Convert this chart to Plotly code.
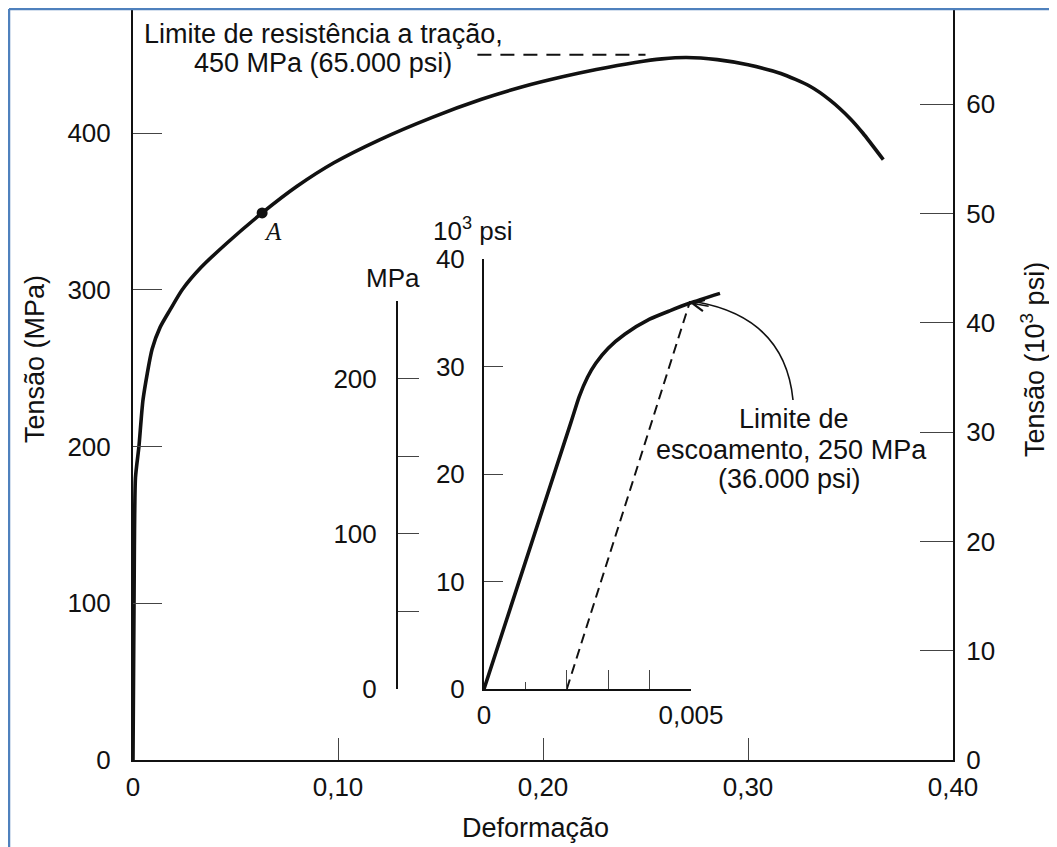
import plotly.graph_objects as go

# ---------------- data ----------------
# main stress-strain curve (strain, MPa)
strain = [0, 0.0005, 0.0012, 0.0029, 0.0049, 0.0093, 0.0132, 0.018, 0.024, 0.033,
          0.046, 0.063, 0.080, 0.098, 0.120, 0.146, 0.170, 0.190, 0.210, 0.226,
          0.245, 0.258, 0.270, 0.285, 0.300, 0.316, 0.330, 0.340, 0.350, 0.356, 0.366]
stress_mpa = [0, 100, 180, 200, 230, 262, 276, 287, 300, 314,
              330, 349, 366, 381, 395.5, 410, 421.5, 429.5, 436, 440.5,
              445, 447.3, 448.2, 446.8, 443.5, 438, 430, 421, 409, 400, 383]

uts_dash_strain = [0.168, 0.250]
uts_dash_mpa = [450, 450]

point_a_strain = [0.063]
point_a_mpa = [349]

# inset (strain, 10^3 psi)
inset_strain = [0, 0.0021, 0.0023, 0.0025, 0.0027, 0.0030, 0.0034, 0.0040,
                0.0045, 0.00498, 0.0057]
inset_ksi = [0, 24.8, 27.2, 29.0, 30.3, 31.7, 33.0, 34.4,
             35.2, 35.9, 36.8]

# 0.2 % offset line (strain, MPa)
offset_strain = [0.002, 0.00498]
offset_mpa = [0, 250]
yield_ksi = 35.9

# ticks
main_x_ticks = [0, 0.1, 0.2, 0.3, 0.4]
main_x_labels = ["0", "0,10", "0,20", "0,30", "0,40"]
mpa_ticks = [0, 100, 200, 300, 400]
ksi_ticks = [0, 10, 20, 30, 40, 50, 60]
inset_ksi_ticks = [0, 10, 20, 30, 40]
inset_mpa_ticks = [0, 50, 100, 150, 200, 250]
inset_mpa_labels = ["0", "", "100", "", "200", ""]
inset_strain_major = [0, 0.001, 0.005]
inset_strain_major_labels = ["0", "", "0,005"]
inset_strain_minor = [0.002, 0.003, 0.004]

# ---------------- layout helpers ----------------
# the page adds an 8 px body margin, so the figure is 8 px smaller than the window
W, H = 1049, 839
L, R, T, B = 125, 104, 0, 87
PW, PH = W - L - R, H - T - B


def pxx(x):
    """reference-image x pixel -> paper x"""
    return (x - 133) / PW


def pxy(y):
    """reference-image y pixel -> paper y"""
    return (760 - y) / PH


FONT = "Liberation Sans, Arial, Helvetica, sans-serif"
FS = 26
FT = 27
INK = "#111111"
TICKC = "#444444"

fig = go.Figure()

fig.add_trace(go.Scatter(x=strain, y=stress_mpa, mode="lines",
                         line=dict(color=INK, width=3.6, shape="spline", smoothing=0.6),
                         xaxis="x", yaxis="y", hoverinfo="skip"))
fig.add_trace(go.Scatter(x=uts_dash_strain, y=uts_dash_mpa, mode="lines",
                         line=dict(color=INK, width=2, dash="14px,9px"),
                         xaxis="x", yaxis="y", hoverinfo="skip"))
fig.add_trace(go.Scatter(x=point_a_strain, y=point_a_mpa, mode="markers",
                         marker=dict(color=INK, size=11),
                         xaxis="x", yaxis="y", hoverinfo="skip"))
fig.add_trace(go.Scatter(x=inset_strain, y=inset_ksi, mode="lines",
                         line=dict(color=INK, width=3.6, shape="spline", smoothing=0.6),
                         xaxis="x2", yaxis="y2", hoverinfo="skip"))
fig.add_trace(go.Scatter(x=offset_strain, y=offset_mpa, mode="lines",
                         line=dict(color=INK, width=2, dash="10px,6px"),
                         xaxis="x2", yaxis="y5", hoverinfo="skip"))
# empty traces so that the helper axes get drawn
fig.add_trace(go.Scatter(x=[None], y=[None], mode="markers", xaxis="x4", yaxis="y2",
                         hoverinfo="skip"))
fig.add_trace(go.Scatter(x=[None], y=[None], mode="markers", xaxis="x", yaxis="y3",
                         hoverinfo="skip"))

axis_common = dict(showgrid=False, zeroline=False, showline=True, linecolor=INK,
                   linewidth=2, ticks="inside", tickcolor=TICKC, tickwidth=1.3,
                   tickfont=dict(family=FONT, size=FS, color=INK), fixedrange=True,
                   tickmode="array")

fig.update_layout(
    width=W, height=H,
    margin=dict(l=L, r=R, t=T, b=B, pad=0, autoexpand=False),
    paper_bgcolor="white", plot_bgcolor="rgba(0,0,0,0)",
    showlegend=False,
    font=dict(family=FONT, size=FS, color=INK),
    xaxis=dict(axis_common, domain=[0, 1], range=[0, 0.4], anchor="y",
               tickvals=main_x_ticks, ticktext=main_x_labels, ticklen=22,
               ticklabelstandoff=3),
    yaxis=dict(axis_common, domain=[0, 1], range=[0, PH / 1.5675], anchor="x",
               tickvals=mpa_ticks, ticklen=29, ticklabelstandoff=15),
    yaxis3=dict(axis_common, overlaying="y", side="right", anchor="x",
                range=[0, PH / 10.93], tickvals=ksi_ticks, ticklen=33,
                ticklabelstandoff=6),
    xaxis2=dict(domain=[pxx(484), pxx(484 + 6 * 41.4)], range=[0, 0.006], anchor="y2",
                visible=False, fixedrange=True),
    yaxis2=dict(axis_common, domain=[pxy(689), pxy(259)], range=[0, 40], anchor="x2",
                tickvals=inset_ksi_ticks, ticklen=19, ticklabelstandoff=12),
    xaxis4=dict(axis_common, domain=[pxx(484), pxx(691)], range=[0, 0.005], anchor="y2",
                tickvals=inset_strain_major, ticktext=inset_strain_major_labels,
                ticklen=7, ticklabelstandoff=2,
                minor=dict(tickmode="array", tickvals=inset_strain_minor, ticks="inside",
                           ticklen=19, tickcolor=TICKC, tickwidth=1.3)),
    yaxis5=dict(axis_common, domain=[pxy(689), pxy(301)], range=[0, 250],
                anchor="free", position=pxx(397),
                tickvals=inset_mpa_ticks, ticktext=inset_mpa_labels, ticklen=21,
                ticklabelstandoff=14),
)


def note(text, x, y, size=FT, angle=0, family=FONT, **kw):
    fig.add_annotation(text=text, x=pxx(x), y=pxy(y), xref="paper", yref="paper",
                       showarrow=False, textangle=angle, xanchor="center", yanchor="middle",
                       font=dict(family=family, size=size, color=INK), **kw)


note("Limite de resistência a tração,", 323, 34)
note("450 MPa (65.000 psi)", 323, 63)
note("MPa", 393, 278, size=FS)
note("10<sup>3</sup> psi", 473, 229, size=FS)
note("Limite de", 794, 419)
note("escoamento, 250 MPa", 791, 450)
note("(36.000 psi)", 789, 479)
note("Tensão (MPa)", 35, 359, angle=-90)
note("Tensão (10<sup>3</sup> psi)", 1033, 360, angle=-90)
note("Deformação", 535, 828)

fig.add_annotation(text="<i>A</i>", x=point_a_strain[0], y=point_a_mpa[0], xref="x", yref="y",
                   showarrow=False, xshift=11, yshift=-19,
                   font=dict(family="Liberation Serif, Times New Roman, serif", size=25, color=INK))

# arrow to yield point
fig.add_shape(type="path", xref="paper", yref="paper",
              path=f"M {pxx(793)},{pxy(400)} Q {pxx(785)},{pxy(318)} {pxx(697)},{pxy(302)}",
              line=dict(color=INK, width=1.6))
fig.add_annotation(text="", x=offset_strain[1], y=yield_ksi, xref="x2", yref="y2",
                   showarrow=True, ax=20, ay=3.5, arrowhead=5, arrowsize=1.5,
                   arrowwidth=1.5, arrowcolor=INK)

# blue picture border (top and left)
BLUE = "#4F81BD"
fig.add_shape(type="line", xref="paper", yref="paper", x0=pxx(9), x1=pxx(1060),
              y0=pxy(9), y1=pxy(9), line=dict(color=BLUE, width=2.5))
fig.add_shape(type="line", xref="paper", yref="paper", x0=pxx(9), x1=pxx(9),
              y0=pxy(9), y1=pxy(850), line=dict(color=BLUE, width=2.5))

fig.write_html("out.html")
